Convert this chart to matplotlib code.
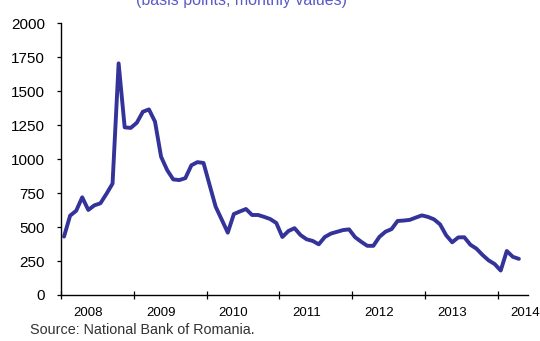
import matplotlib
matplotlib.use("Agg")
import matplotlib.pyplot as plt
import numpy as np

# Monthly values, Jan 2008 - Apr 2014 (basis points)
spread_bp = [430, 584, 620, 719, 626, 660, 675, 745, 820, 1705,
             1234, 1230, 1268, 1349, 1366, 1276, 1018, 920, 851, 846,
             860, 955, 978, 972, 810, 650, 555, 459, 596, 615,
             633, 589, 589, 575, 559, 530, 427, 471, 492, 441,
             410, 398, 373, 427, 452, 465, 478, 483, 425, 392,
             362, 362, 428, 466, 485, 545, 548, 553, 570, 586,
             575, 557, 520, 440, 388, 424, 425, 370, 341, 295,
             255, 228, 180, 324, 281, 266]
year_labels = ["2008", "2009", "2010", "2011", "2012", "2013", "2014"]
y_ticks = [0, 250, 500, 750, 1000, 1250, 1500, 1750, 2000]

plt.rcParams['font.family'] = ['Liberation Sans', 'DejaVu Sans']

fig = plt.figure(figsize=(5.40, 3.41), dpi=100)
ax = fig.add_axes([61/540, 1-295/341, (528-61)/540, (295-23.3)/341])

x = np.arange(len(spread_bp)) + 0.5
ax.plot(x, spread_bp, color='#333399', lw=2.8, solid_joinstyle='round', solid_capstyle='round')

n_months = 77
ax.set_xlim(0, n_months)
ax.set_ylim(0, 2000)

ax.spines['top'].set_visible(False)
ax.spines['right'].set_visible(False)
for s in ('left', 'bottom'):
    ax.spines[s].set_linewidth(1.0)
    ax.spines[s].set_color('black')

ax.set_yticks(y_ticks)
ax.set_yticklabels([str(v) for v in y_ticks])
ax.tick_params(axis='y', direction='out', length=3.2, width=0.9, labelsize=11, pad=8.3, colors='black')

major_pos = [12*k for k in range(len(year_labels))]
ax.set_xticks(major_pos)
ax.set_xticklabels([''] * len(major_pos))
ax.tick_params(axis='x', which='major', direction='inout', length=6, width=0.9)
label_pos = [12*k + 4.45 for k in range(len(year_labels))]
ax.set_xticks(label_pos, minor=True)
ax.set_xticklabels(year_labels, minor=True)
ax.tick_params(axis='x', which='minor', length=0, labelsize=9.5, pad=8.5)

ax.patch.set_alpha(0)

fig.text((133+350)/2/540, 1 - 5/341, "(basis points, monthly values)", color='#5a5ac8',
         fontsize=11.5, ha='center', va='baseline')
fig.text(30/540, 1 - 330/341, "Source: National Bank of Romania.", color='#333333',
         fontsize=10.4, ha='left', va='center')

fig.savefig("out.png", dpi=100)
